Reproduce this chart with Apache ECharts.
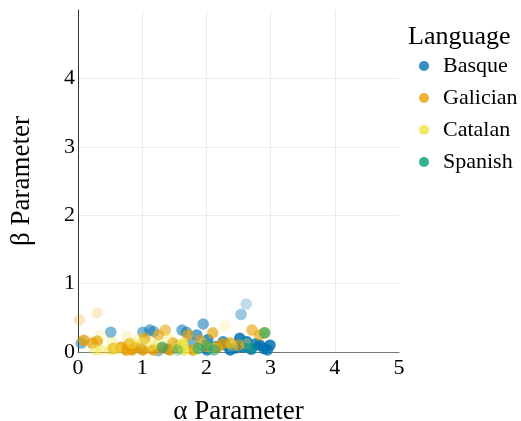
<!DOCTYPE html>
<html><head><meta charset="utf-8">
<script src="https://cdn.jsdelivr.net/npm/echarts@6/dist/echarts.min.js"></script>
<style>html,body{margin:0;padding:0;background:#fff}#c{width:521px;height:421px}</style>
</head><body><div id="c"></div>
<script>
// [alpha, beta, weight]
const languages = ['Basque', 'Galician', 'Catalan', 'Spanish'];
const colors = ['#0072B2', '#E69F00', '#F0E442', '#009E73'];
const xTicks = [0, 1, 2, 3, 4, 5];
const yTicks = [0, 1, 2, 3, 4];

const basque = [
  [0.05,0.13,0.5],[0.51,0.29,0.5],[1.01,0.29,0.5],[1.12,0.32,0.55],[1.18,0.30,0.45],
  [1.62,0.32,0.55],[1.69,0.29,0.5],[1.95,0.41,0.55],[1.85,0.25,0.65],[2.54,0.55,0.4],
  [2.62,0.70,0.25],[2.02,0.18,0.75],[2.01,0.03,0.8],[2.26,0.15,0.75],[2.37,0.03,0.85],
  [2.45,0.06,0.85],[2.52,0.20,0.85],[2.57,0.07,0.9],[2.83,0.10,0.85],[2.99,0.10,0.85],
  [2.70,0.04,0.85],[2.90,0.05,0.8],[2.15,0.08,0.7],[1.92,0.10,0.6],[1.40,0.04,0.5],
  [1.55,0.08,0.55],[1.25,0.02,0.45],[2.77,0.12,0.8],[2.63,0.15,0.85],[2.95,0.03,0.8],
  [2.30,0.10,0.7],[0.98,0.05,0.4],[1.76,0.13,0.55]
];
const galician = [
  [0.09,0.17,0.75],[0.22,0.13,0.7],[0.30,0.16,0.75],[0.02,0.47,0.25],[0.30,0.57,0.2],
  [0.67,0.07,0.8],[0.75,0.03,0.85],[0.84,0.03,0.85],[0.90,0.07,0.8],[1.04,0.20,0.7],
  [1.25,0.25,0.6],[1.36,0.32,0.55],[1.48,0.13,0.7],[1.71,0.25,0.65],[1.01,0.03,0.85],
  [1.17,0.03,0.85],[1.43,0.03,0.85],[1.79,0.03,0.85],[2.10,0.28,0.65],[2.37,0.13,0.75],
  [2.71,0.32,0.6],[2.83,0.25,0.65],[2.90,0.28,0.55],[2.17,0.07,0.8],[1.60,0.06,0.8],
  [0.55,0.05,0.8],[1.30,0.06,0.75],[2.00,0.08,0.7],[2.25,0.12,0.7],[1.90,0.17,0.6],
  [0.80,0.12,0.7],[2.50,0.10,0.6]
];
const catalan = [
  [0.36,0.25,0.2],[0.76,0.23,0.25],[0.84,0.13,0.4],[0.53,0.15,0.3],[0.26,0.03,0.45],
  [0.36,0.03,0.45],[0.50,0.03,0.4],[0.60,0.04,0.45],[1.63,0.13,0.55],[1.54,0.07,0.5],
  [1.00,0.14,0.35],[2.29,0.38,0.2],[2.91,0.29,0.4],[1.63,0.10,0.85],[1.65,0.03,0.8],
  [1.15,0.10,0.4],[1.40,0.20,0.3],[1.85,0.04,0.4],[2.10,0.05,0.45],[2.40,0.09,0.35],
  [1.95,0.12,0.3],[1.25,0.12,0.35],[0.95,0.20,0.25],[2.62,0.12,0.3]
];
const spanish = [
  [2.91,0.28,0.55],[1.32,0.07,0.5],[1.87,0.05,0.5],[2.01,0.10,0.45],[2.12,0.03,0.5],
  [2.68,0.06,0.4],[1.55,0.03,0.35]
];

const seriesData = [basque, galician, catalan, spanish];
const font = 'Liberation Serif, Times New Roman, serif';

const chart = echarts.init(document.getElementById('c'));
chart.setOption({
  animation: false,
  grid: { left: 78, right: 122, top: 10, bottom: 69, containLabel: false, outerBoundsMode: 'none' },
  graphic: [{
    type: 'text', left: 408, top: 24,
    style: { text: 'Language', font: '26px ' + font, fill: '#000' }
  }],
  legend: {
    orient: 'vertical', left: 414, top: 50, itemGap: 10,
    icon: 'circle', itemWidth: 10, itemHeight: 10,
    textStyle: { fontFamily: font, fontSize: 22, color: '#000', padding: [0, 0, 0, 9] },
    data: languages
  },
  visualMap: {
    show: false, type: 'continuous', dimension: 2, min: 0, max: 1,
    seriesIndex: [0, 1, 2, 3], inRange: { opacity: [0, 1] }
  },
  xAxis: {
    type: 'value', min: xTicks[0], max: xTicks[xTicks.length - 1], interval: 1,
    name: 'α Parameter', nameLocation: 'middle', nameGap: 46,
    nameTextStyle: { fontFamily: font, fontSize: 27, color: '#000' },
    axisLine: { show: true, lineStyle: { color: '#777', width: 1.2 } },
    axisTick: { show: false },
    axisLabel: { fontFamily: font, fontSize: 22, color: '#000', margin: 5 },
    splitLine: { show: true, showMinLine: false, showMaxLine: false, lineStyle: { color: '#ececec', width: 1 } }
  },
  yAxis: {
    type: 'value', min: 0, max: 5, interval: 1,
    name: 'β Parameter', nameLocation: 'middle', nameGap: 43,
    nameTextStyle: { fontFamily: font, fontSize: 27, color: '#000' },
    axisLine: { show: true, lineStyle: { color: '#333', width: 1 } },
    axisTick: { show: false },
    axisLabel: { fontFamily: font, fontSize: 22, color: '#000', margin: 3, showMaxLabel: false },
    splitLine: { show: true, showMinLine: false, showMaxLine: false, lineStyle: { color: '#ececec', width: 1 } }
  },
  series: languages.map((name, i) => ({
    name, type: 'scatter', data: seriesData[i], symbolSize: 11.5,
    itemStyle: { color: colors[i] }, clip: false
  }))
});
</script></body></html>
